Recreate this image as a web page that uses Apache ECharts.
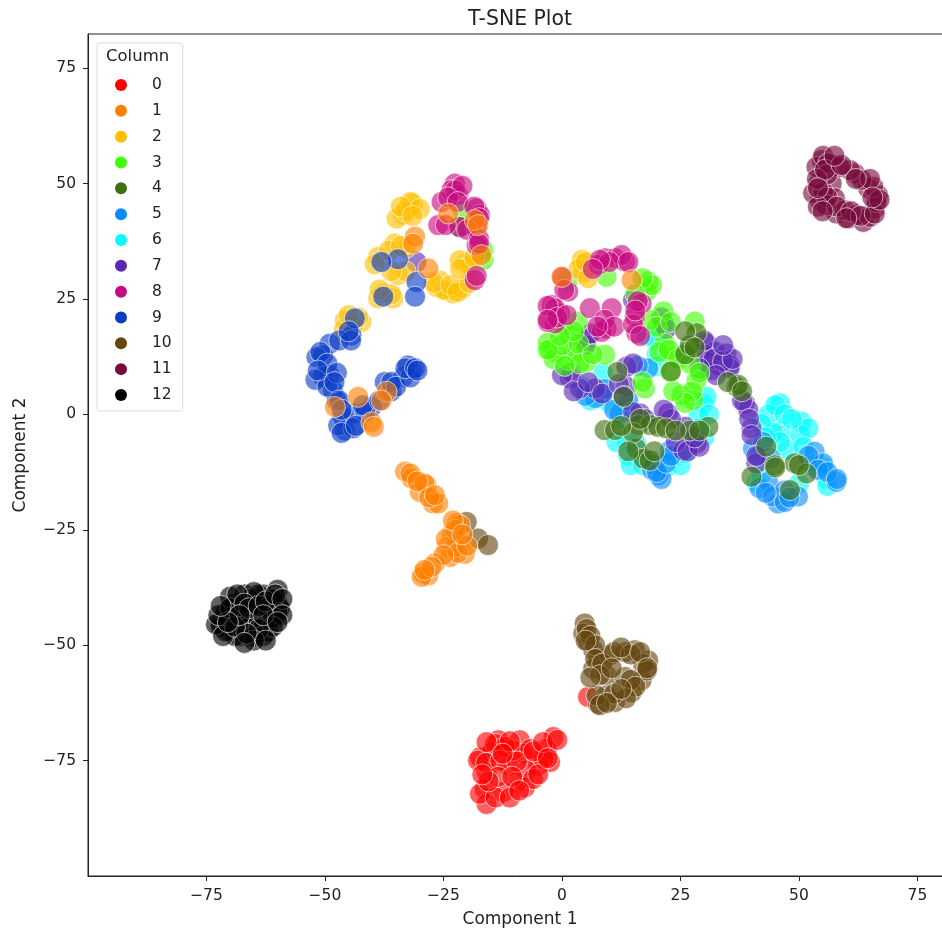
<!DOCTYPE html>
<html><head><meta charset="utf-8">
<script src="https://cdn.jsdelivr.net/npm/echarts@6/dist/echarts.min.js"></script>
<style>html,body{margin:0;background:#fff}#c{width:942px;height:930px}</style></head>
<body><div id="c"></div>
<script>
const categories=['0','1','2','3','4','5','6','7','8','9','10','11','12'];
const colors=['#ff0000','#ff8000','#ffc000','#40ff00','#3f7010','#0a8cff','#00ffff','#5a28b4','#c80a80','#0a3cc8','#64460f','#780a3c','#000000'];
const xTicks=[-75,-50,-25,0,25,50,75];
const yTicks=[-75,-50,-25,0,25,50,75];
const drawOrder=[0,10,11,12,6,5,7,3,4,2,9,8,1];
const c0=[[-13.4,-70.6],[-8.9,-70.6],[-1.8,-69.9],[-3.2,-72.4],[-17.3,-74.3],[-14.8,-73.2],[-8.2,-73.5],[-11.3,-76.1],[-2.5,-75.3],[-5,-76.1],[-15.9,-77.5],[-7.5,-77.1],[-9.6,-79.7],[-16.3,-81.1],[-12.4,-81.8],[-7.8,-80.8],[-15.9,-84.4],[-17.3,-82.2],[-17.7,-75],[-14.1,-71.4],[-10.3,-72.8],[-3.9,-74.6],[-6.1,-79],[5.5,-61.2],[-12,-72],[-15.9,-71],[-11,-70.8],[-6.7,-72.5],[-16,-75.5],[-13,-75],[-9.5,-75.2],[-6,-73],[-4,-71],[-1,-70.5],[-13.5,-78.5],[-10.5,-78.5],[-5,-78],[-14,-83],[-15.5,-79.5],[-11,-83],[-9,-81.5],[-12.5,-73.5],[-16.8,-78],[-3,-74.5]];
const c1=[[-33.1,-12.4],[-31.7,-13.9],[-28.6,-15.3],[-30,-16.8],[-27.2,-19.3],[-26.1,-19.3],[-22.2,-23.6],[-23.3,-25.8],[-21.5,-27.6],[-24.3,-28.7],[-20.5,-30.2],[-23.6,-30.9],[-26.8,-32.3],[-29.3,-34.5],[-28.2,-34.9],[-29.6,-35.2],[-22.6,-28.7],[-21.5,-24],[-32,-12.8],[-29,-15],[-28,-18],[-30.5,-14.5],[-26.8,-17.5],[-22.5,-25],[-24.5,-27],[-22,-30],[-25,-30.5],[-27.5,-33],[-29,-33.7],[-20,-28.5],[-23,-23],[-21,-26],[-47.9,1.6],[-43,3.8],[-37,4.9],[-38.1,3],[-40.2,-1.7],[-39.7,-2.7],[-31,38.5],[-31.4,37],[-28.2,31.6],[-24,43.5],[-18.4,42.1],[-17.7,41],[-17,34.5],[-0.1,29.8],[14.7,29.1]];
const c2=[[-32.5,44.6],[-33.5,43.2],[-34.9,42.4],[-31.4,45.7],[-35.3,37],[-38.8,34.1],[-34.6,30.2],[-26.5,27.6],[-24.4,26.9],[-23,26.2],[-25.8,29],[-20.9,27.3],[-20.5,32.7],[-21.6,33.4],[-19.4,32.3],[-35.6,25.1],[-38.8,25.1],[-37.7,26.2],[-45.8,20.4],[-42.3,20],[-44,19.5],[4.5,32.4],[4.5,30.6],[4.2,33.5],[-33,36],[-33,44],[-32,46],[-30,44.5],[-34,45],[-31.5,43],[-36.5,35.5],[-33,31],[-36,31],[-39.5,32.5],[-25,27],[-27,28.5],[-23.5,28],[-22,26.5],[-19.5,28.5],[-21.5,31.5],[-18.5,34],[-36,26],[-38.5,27],[-46,18.5],[-43,21],[-45,21.5],[3.5,31.5],[5,33],[5.5,29.5],[-34,36.5]];
const c3=[[-20.9,43.9],[-16.6,35.6],[-16.6,33.4],[9.4,29.8],[18.2,28.8],[17.9,26.6],[-2.5,13.9],[1.3,11.8],[2.4,13.6],[1.7,16.8],[5.2,11.4],[9.1,12.9],[-1.1,13.2],[21.4,22.3],[18.6,20.5],[21.7,15.4],[23.5,12.5],[22.8,9.2],[17.5,5.6],[25.2,4.2],[27.7,3.1],[28.4,7.4],[26.3,13.6],[28,20.1],[3.4,20.1],[0.3,19.3],[1.2,29],[-3,15.5],[-1.8,12],[0,15],[3.5,15.3],[3.8,11],[0.6,10.5],[-3,14],[6.5,13],[20,19],[23,20],[20.5,13.5],[22.5,14],[24.5,12],[27,11],[27.5,5],[26,2.5],[23.5,5],[29,9],[17,7],[19,28],[17,29.5],[15.5,26],[2.5,18],[-0.5,17]];
const c4=[[9,-3.4],[11.2,-3.4],[16.1,-2.3],[18.6,-2.3],[20.3,-2.7],[15.7,-7.4],[17.2,-9.6],[30.9,-2.7],[13,3.8],[11.7,9.2],[28.4,17.6],[36.8,6],[37.2,6.4],[44.9,-11],[49.1,-10.6],[51.6,-12.8],[48.1,-16.4],[40,-13.5],[43.1,-7],[-21.6,40.6],[23,9.3],[26,13],[15,-4],[12.5,-2.5],[14,-8],[18.5,-10],[22,-3],[27,-3.5],[29,-3.5],[16.5,-1],[24,-3.5],[35,7],[38,5],[27,15],[26,18],[28,14.5],[19.5,-8],[45,-11.5],[50,-11]];
const c5=[[18.2,10],[22.8,-7.8],[20.3,-13.2],[12.2,0.2],[40.3,-7.4],[53.3,-8.1],[55.1,-10.6],[57.9,-14.6],[41.7,-16],[43.5,-14.6],[45.6,-19.3],[49.8,-17.8],[44.5,-17.8],[47,-16.5],[19,-12],[8.5,4],[19.5,-11],[21,-14],[20,-12.5],[22,-10.5],[23,-9],[11,1],[14,3],[16,10.5],[47,-19],[48,-18],[43,-17],[41.5,-9],[44,-9.5],[52,-9],[54,-12],[56,-12.5],[58,-14],[42.5,-6],[7,3.5],[5,4],[9,5.5]];
const c6=[[8.7,8.9],[4.5,6],[8,3.8],[20,16.1],[13.6,-5.6],[15.7,-6.4],[29.8,2.4],[30.5,3.8],[22.1,-11.4],[28.8,-0.5],[30,-5],[46,2.4],[43.5,-0.1],[46,-3.7],[50.5,-1.6],[50.2,-4.5],[47.7,-7.7],[55.8,-13.9],[55.1,-11.3],[41,-14.8],[24,-9],[19,-10],[6,3],[10,2.5],[18,17],[20,13],[20,10.5],[12,-1],[14,1.5],[11.5,-6],[14,-9],[14.5,-11],[17,-11],[25,-11],[26,-8.5],[29,-3],[31,0],[45,2],[47,0],[44.5,-4],[42,-2],[52,-3],[48.5,-1],[51,-7],[46,-6],[53,-11],[56,-15.5],[42,-13],[43,-5],[50,-15]];
const c7=[[1.7,7.8],[7,5.6],[3.8,5.6],[13.6,6],[13.6,10.3],[22.4,0.2],[26,-2.7],[28.4,-6.3],[25.6,-7.8],[21.4,19.7],[30.5,15.4],[32.3,13.6],[34.7,13.2],[30.5,11.4],[33,10.7],[35.4,10.7],[31.6,9.6],[5.2,16.1],[15,24.8],[16.5,0.2],[35.4,10],[38.6,2.4],[39.3,1],[40,-3],[41,-10.6],[-30.7,33],[5,15],[6,17.5],[2,9],[0,8.5],[2.5,5],[5.5,7],[8.5,4.5],[12,6.5],[13,4],[15,11],[23,-1],[21.5,1],[24,-6],[26.5,-8],[29,-7],[28,-5],[17.5,-1],[15,0.5],[21,21],[22,18.5],[30,13],[32,12],[34,11.5],[36,12],[29,10],[32.5,8.5],[30,16],[34,15],[38,3],[39.5,-1],[40,-4.5],[41,-9]];
const c8=[[-22.6,50],[-23.3,48.6],[-21.9,47.5],[-25.4,46],[-18,44.6],[-17.3,43.2],[-26.1,41],[-21.6,40.6],[-18,40.3],[-18,36.7],[-18.4,29.1],[9.1,33.8],[11.2,33.8],[13.3,33.1],[12.6,34.5],[7.7,32.4],[1.3,26.6],[-2.2,23.7],[-0.4,21.9],[5.9,23],[10.5,23],[9.4,18.6],[8.4,17.9],[16.8,24],[15.4,21.2],[15.7,17.6],[-1.5,19.7],[-3,20],[0.1,29.7],[10,33],[8,33.5],[14,33],[6.5,31.5],[0.5,27],[-1.5,23],[-3,23.5],[-1,21],[1,21.5],[-3,20.5],[9,20.5],[11,19],[7.5,19],[16,24.5],[15,19.5],[16.5,17],[15.5,22.5],[-22.5,48.5],[-21,49.5],[-24,47],[-22,46],[-18.5,45],[-17.5,42.5],[-24.5,41],[-20,40],[-17.5,38],[-17.5,37],[-18,30]];
const c9=[[-49,15.3],[-50.4,12.8],[-51.8,12.4],[-49,8.5],[-50.4,8.1],[-48.3,5.2],[-46.2,-0.6],[-45.8,-3.5],[-47.2,-2.4],[-44,0.2],[-40.2,1.6],[-37.4,7],[-33.5,8.1],[-31.7,9.5],[-32.5,10.6],[-44.4,17.1],[-30.7,28.7],[-31,25.5],[-34.6,33.6],[-38.1,33],[-37.7,25.5],[-47.5,3],[-36,5],[-41.5,0.5],[-43.7,20.8],[-47,16],[-51,13.5],[-49.5,11],[-52,7.5],[-49.5,6],[-51.5,9.5],[-47.5,9],[-48,7],[-47,3],[-46.5,1],[-44,-3],[-46.5,-4],[-43.5,-2.5],[-42,2],[-38.5,3],[-36,7],[-35,6],[-32,8],[-33,10],[-31,10],[-30.5,9.5],[-44.5,16],[-45,18]];
const c10=[[4.8,-45.3],[4.5,-47.5],[5.5,-49.3],[6.6,-51.1],[7.6,-52.9],[10.1,-52.2],[13.3,-51.5],[15.4,-51.1],[18.2,-53.3],[6.6,-55.1],[9.4,-56.5],[13.3,-56.9],[16.8,-57.6],[14.7,-60.2],[9.4,-60.9],[7.6,-62.7],[11.2,-62.3],[7.3,-60.9],[17.1,-54],[17.9,-55.5],[-17.7,-26.9],[-15.6,-28.3],[-20.1,-23.3],[5.2,-46.5],[6,-48],[7,-50],[5,-49],[7,-53],[8.5,-54],[11,-51.5],[14.5,-52],[12.5,-50.5],[16.5,-51.5],[18,-55],[8,-56.5],[6,-57],[10.5,-55],[14.5,-57.5],[15.5,-59],[13.5,-61.5],[11,-60.5],[8,-63],[9.5,-62.5],[12.5,-59.5]];
const c11=[[54.8,55.1],[57.2,54],[54.1,50],[56.9,50],[54.4,46.4],[57.6,46.8],[57.9,43.5],[60.4,42.4],[63.6,41.7],[66,44.6],[66.7,47.5],[64.6,49],[61.8,52.2],[53.7,53.6],[55.1,56],[56.2,54.4],[53,47.9],[55.1,48.2],[55.8,45.3],[59.7,44.2],[62.2,43.2],[65,42.8],[66.4,46],[65.7,49.3],[63.2,50.8],[60.8,52.9],[58.6,53.6],[56,52],[53.8,51],[55.5,53],[59,54],[56,47],[54,45],[58,45],[61,44],[63,43],[66,43.5],[67,46.5],[65,51],[62,51],[60,42.5],[65.5,47],[55,44],[57.5,56],[54,49]];
const c12=[[-72,-45],[-71,-43],[-70,-47],[-69,-41],[-68,-45],[-68,-48],[-67,-43],[-67,-39],[-66,-46],[-65,-41],[-65,-48],[-64,-44.5],[-63,-46],[-63,-39],[-62,-42],[-62,-47],[-61,-44],[-60,-38],[-60,-41],[-59.5,-42],[-70,-44],[-72,-46],[-69,-48],[-66,-40],[-64,-39],[-61,-40],[-60,-43],[-63,-48],[-68,-41.5],[-71,-47],[-65,-38.5],[-70,-39.5],[-73,-45.5],[-72.5,-43.5],[-71.5,-48],[-70,-42],[-68.5,-39],[-67,-41],[-66,-42],[-64,-41.5],[-62.5,-40.5],[-60.5,-39],[-59,-40],[-59,-43.5],[-61,-46],[-64,-46.5],[-65,-49],[-66.5,-47.5],[-69,-46],[-68,-43.5],[-70.5,-45],[-72,-41.5],[-63,-43.5],[-60,-45],[-62.5,-49],[-67,-49.5]];
const clusters=[c0,c1,c2,c3,c4,c5,c6,c7,c8,c9,c10,c11,c12];
const chart=echarts.init(document.getElementById('c'));
const font='"DejaVu Sans"';
function axisCommon(ticks,name){return{
  type:'value',name,nameLocation:'middle',nameTextStyle:{color:'#222',fontFamily:font,fontSize:17},
  interval:25,splitLine:{show:false},
  axisLine:{show:true,onZero:false,lineStyle:{color:'#222',width:1}},
  axisTick:{show:true,length:5,customValues:ticks,lineStyle:{color:'#222'}},
  axisLabel:{customValues:ticks,color:'#222',fontFamily:font,fontSize:15.5,margin:12,formatter:v=>String(v).replace('-','\u2212')}
};}
chart.setOption({
  animation:false,backgroundColor:'#fff',
  title:{text:'T-SNE Plot',left:515,top:5,textAlign:'center',textStyle:{color:'#222',fontFamily:font,fontSize:20.4,fontWeight:'normal'}},
  grid:{left:88,top:34,width:864,height:842,outerBoundsMode:'none',show:true,borderColor:'#222',borderWidth:1},
  xAxis:Object.assign(axisCommon(xTicks,'Component 1'),{min:-100,max:82.3,nameGap:35}),
  yAxis:Object.assign(axisCommon(yTicks,'Component 2'),{min:-100,max:82.4,nameGap:59}),
  legend:{orient:'vertical',left:97,top:43,padding:[34,11,8,18],itemWidth:12,itemHeight:12,itemGap:9.83,
    backgroundColor:'rgba(255,255,255,0.8)',borderColor:'#ddd',borderWidth:1,borderRadius:3,
    icon:'circle',itemStyle:{opacity:1,borderWidth:0},
    textStyle:{color:'#222',fontFamily:font,fontSize:15.5,padding:[0,0,0,20]},
    data:categories},
  graphic:[{type:'text',left:106,top:48,z:100,style:{text:'Column',fill:'#222',font:'16.5px "DejaVu Sans"'}}],
  series:drawOrder.map(i=>({
    name:categories[i],type:'scatter',data:clusters[i],symbolSize:21,
    itemStyle:{color:colors[i],opacity:0.62,borderColor:'#fff',borderWidth:1}
  }))
});
</script></body></html>
